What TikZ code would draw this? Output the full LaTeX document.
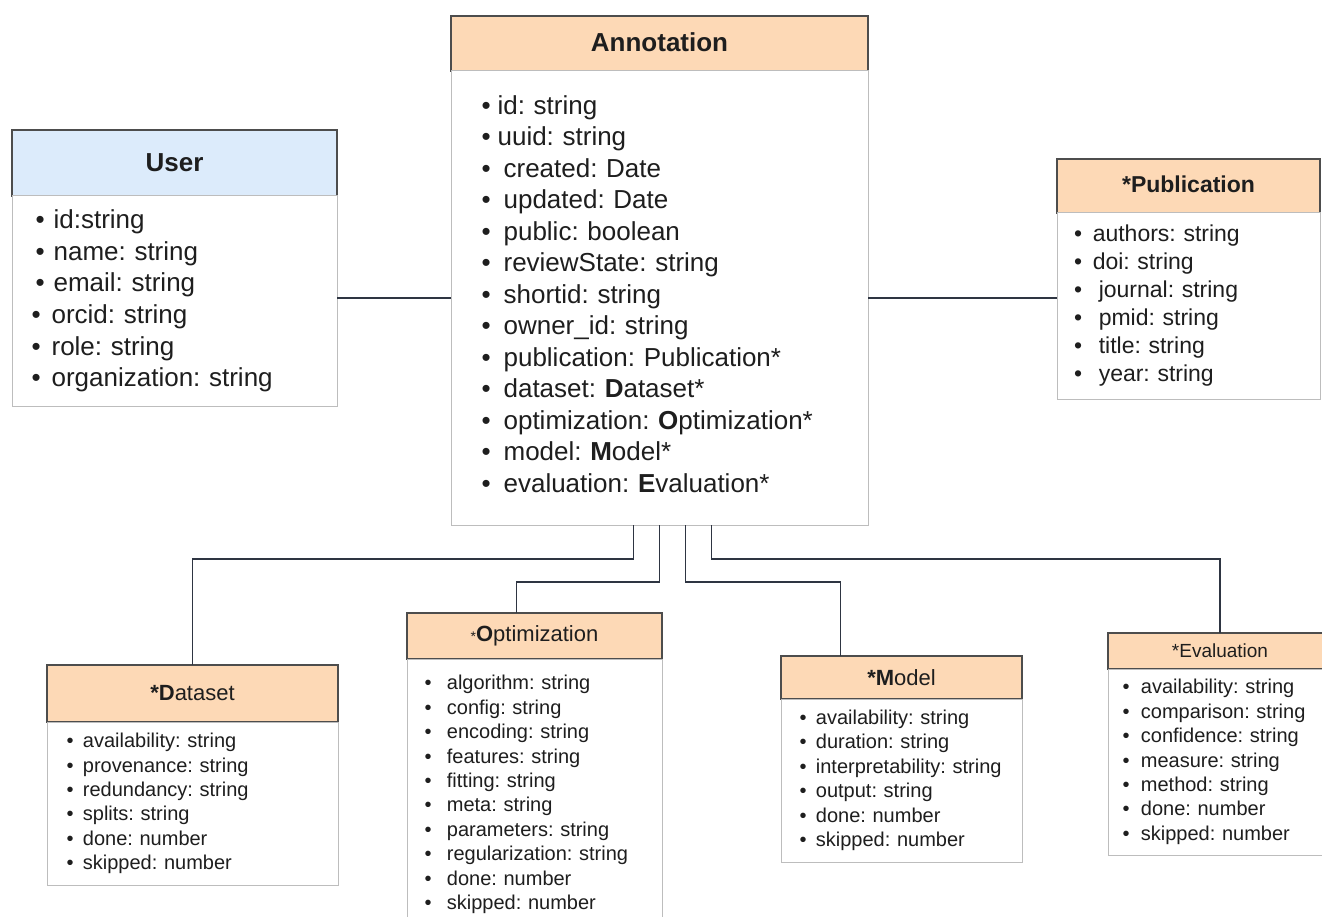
\documentclass[tikz,border=0pt]{standalone}
\usepackage{fontspec}
\setmainfont{Liberation Sans}
\usepackage{xcolor}
\definecolor{Peach Puff}{HTML}{FDD9B6}
\definecolor{Ice Blue}{HTML}{DCEBFB}
\definecolor{Slate}{HTML}{2E3542}
\definecolor{Frame}{HTML}{4D4D4D}
\definecolor{Rule}{HTML}{BDBDBD}
\definecolor{Ink}{HTML}{1E1E1E}
\colorlet{cHead}{Peach Puff}
\colorlet{cUser}{Ice Blue}
\usepackage{tikz}
\usetikzlibrary{positioning}
\newcommand{\bul}[1][7pt]{\textbullet\hspace*{#1}}
\tikzset{
	node distance = 0pt,
	head/.style={
		draw=Frame,
		fill=cHead,
		line width=1.2pt,
		inner sep=0pt,
		outer sep=0pt,
		text=Ink,
		anchor=north west
	},
	body/.style={
		draw=Rule,
		fill=white,
		line width=1pt,
		inner ysep=0pt,
		outer sep=0pt,
		align=left,
		text=Ink
	},
	link/.style={
		draw=Slate,
		line width=1.8pt
	}
}

\begin{document}
\frenchspacing
\begin{tikzpicture}[x=1pt, y=-1pt]
\useasboundingbox (0,0) rectangle (1322,917);

% ---
% Annotation
% ---
\node[head, minimum width=417pt, minimum height=55pt, font=\fontsize{26}{26}\selectfont\bfseries] (annot-head) at (451,16) {\raisebox{2pt}{Annotation}};
\node[body, below=of annot-head, minimum height=454pt, inner xsep=30.5pt, text width=356pt, font=\fontsize{26}{31.5}\selectfont] (annot) {%
\bul id: string\\
\bul uuid: string\\
\bul[13pt]created: Date\\
\bul[13pt]updated: Date\\
\bul[13pt]public: boolean\\
\bul[13pt]reviewState: string\\
\bul[13pt]shortid: string\\
\bul[13pt]owner\_id: string\\
\bul[13pt]publication: Publication*\\
\bul[13pt]dataset: \textbf{D}ataset*\\
\bul[13pt]optimization: \textbf{O}ptimization*\\
\bul[13pt]model: \textbf{M}odel*\\
\bul[13pt]evaluation: \textbf{E}valuation*\rule[-8pt]{0pt}{1pt}};

% ---
% User
% ---
\node[head, fill=cUser, minimum width=325pt, minimum height=66pt, font=\fontsize{26}{26}\selectfont\bfseries] (user-head) at (12,130) {User};
\node[body, below=of user-head, minimum height=210pt, inner xsep=19.5pt, text width=286pt, font=\fontsize{26}{31.6}\selectfont] (user) {%
\hspace*{4pt}\bul[9pt]id:string\\
\hspace*{4pt}\bul[9pt]name: string\\
\hspace*{4pt}\bul[9pt]email: string\\
\bul[11pt]orcid: string\\
\bul[11pt]role: string\\
\bul[11pt]organization: string};

% ---
% Publication
% ---
\node[head, minimum width=263pt, minimum height=54pt, font=\fontsize{23}{23}\selectfont\bfseries] (pub-head) at (1057,159) {\raisebox{3pt}{*Publication}};
\node[body, below=of pub-head, minimum height=186pt, inner xsep=17pt, text width=229pt, font=\fontsize{23}{28}\selectfont] (pub) {%
\bul[10.7pt]authors: string\\
\bul[10.7pt]doi: string\\
\bul[16.7pt]journal: string\\
\bul[16.7pt]pmid: string\\
\bul[16.7pt]title: string\\
\bul[16.7pt]year: string};

% ---
% Dataset
% ---
\node[head, minimum width=291pt, minimum height=57pt, font=\fontsize{22}{22}\selectfont] (data-head) at (47,665) {\textbf{*D}ataset};
\node[body, below=of data-head, minimum height=163pt, inner xsep=19.5pt, text width=252pt, font=\fontsize{20}{24.3}\selectfont] (data) {%
\bul[9.4pt]availability: string\\
\bul[9.4pt]provenance: string\\
\bul[9.4pt]redundancy: string\\
\bul[9.4pt]splits: string\\
\bul[9.4pt]done: number\\
\bul[9.4pt]skipped: number};

% ---
% Optimization
% ---
\node[head, minimum width=255pt, minimum height=46pt, font=\fontsize{22}{22}\selectfont] (optim-head) at (407,613) {{\fontsize{14}{14}\selectfont*}\textbf{O}ptimization};
\node[body, below=of optim-head, minimum height=271pt, inner xsep=17.5pt, text width=220pt, font=\fontsize{20}{24.4}\selectfont] (optim) {%
\bul[15.4pt]algorithm: string\\
\bul[15.4pt]config: string\\
\bul[15.4pt]encoding: string\\
\bul[15.4pt]features: string\\
\bul[15.4pt]fitting: string\\
\bul[15.4pt]meta: string\\
\bul[15.4pt]parameters: string\\
\bul[15.4pt]regularization: string\\
\bul[15.4pt]done: number\\
\bul[15.4pt]skipped: number};

% ---
% Model
% ---
\node[head, minimum width=241pt, minimum height=43pt, font=\fontsize{22}{22}\selectfont] (model-head) at (781,656) {\textbf{*M}odel};
\node[body, below=of model-head, minimum height=163pt, inner xsep=14pt, text width=213pt, font=\fontsize{20}{24.5}\selectfont] (model) {%
\hspace*{4.5pt}\bul[9.4pt]availability: string\\
\hspace*{4.5pt}\bul[9.4pt]duration: string\\
\hspace*{4.5pt}\bul[9.4pt]interpretability: string\\
\hspace*{4.5pt}\bul[9.4pt]output: string\\
\hspace*{4.5pt}\bul[9.4pt]done: number\\
\hspace*{4.5pt}\bul[9.4pt]skipped: number};

% ---
% Evaluation
% ---
\node[head, minimum width=224pt, minimum height=36pt, font=\fontsize{19}{19}\selectfont] (eval-head) at (1108,633) {*Evaluation};
\node[body, below=of eval-head, minimum height=186pt, inner xsep=14.5pt, text width=195pt, font=\fontsize{20}{24.4}\selectfont] (eval) {%
\bul[11.4pt]availability: string\\
\bul[11.4pt]comparison: string\\
\bul[11.4pt]confidence: string\\
\bul[11.4pt]measure: string\\
\bul[11.4pt]method: string\\
\bul[11.4pt]done: number\\
\bul[11.4pt]skipped: number};

% ---
% Associations
% ---
\draw[link] (annot.west) -- (annot.west -| user.east);
\draw[link] (annot.east) -- (annot.east -| pub.west);
\draw[link] ([xshift=-26pt]annot.south) -- ++(0,34) -| (data-head.north);
\draw[link] (annot.south) -- ++(0,57) -| ([xshift=-18pt]optim-head.north);
\draw[link] ([xshift=26pt]annot.south) -- ++(0,57) -| ([xshift=-61pt]model-head.north);
\draw[link] ([xshift=52pt]annot.south) -- ++(0,34) -| (eval-head.north);
\end{tikzpicture}
\end{document}
